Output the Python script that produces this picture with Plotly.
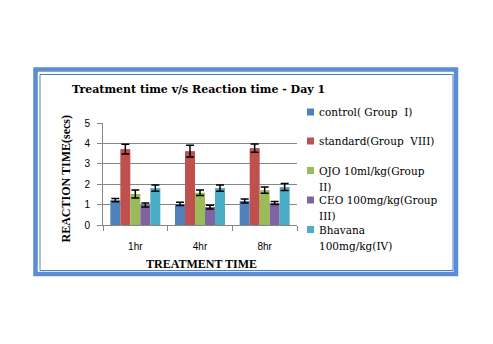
import plotly.graph_objects as go

categories = ["1hr", "4hr", "8hr"]
series_names = [
    "control(\u00a0Group\u00a0\u00a0I)",
    "standard(Group\u00a0\u00a0VIII)",
    "OJO 10ml/kg(Group<br>II)",
    "CEO 100mg/kg(Group<br>III)",
    "Bhavana<br>100mg/kg(IV)",
]
control = [1.22, 1.03, 1.18]
standard = [3.72, 3.62, 3.77]
ojo = [1.52, 1.58, 1.71]
ceo = [0.98, 0.88, 1.08]
bhavana = [1.81, 1.81, 1.86]
control_err = [0.08, 0.08, 0.10]
standard_err = [0.24, 0.29, 0.20]
ojo_err = [0.20, 0.14, 0.15]
ceo_err = [0.10, 0.09, 0.07]
bhavana_err = [0.15, 0.15, 0.17]
colors = ["#4F81BD", "#C0504D", "#9BBB59", "#8064A2", "#4BACC6"]

values = [control, standard, ojo, ceo, bhavana]
errors = [control_err, standard_err, ojo_err, ceo_err, bhavana_err]

W, H = 493, 344
L, R, T, B = 103, 297, 123, 225


def px(x):
    return (x - L) / (R - L)


def py(y):
    return (B - y) / (B - T)


serif = "Liberation Serif"
serif_wide = "DejaVu Serif"
sans = "Liberation Sans"

fig = go.Figure()
for i, (name, v, e, c) in enumerate(zip(series_names, values, errors, colors)):
    fig.add_trace(go.Bar(
        x=categories, y=v, name=name.replace("<br>", " "), marker_color=c, marker_line_width=0,
        showlegend=False,
        error_y=dict(type="data", array=e, visible=True, color="black", thickness=1.5, width=4),
    ))

fig.update_layout(
    width=W, height=H,
    margin=dict(l=L, r=W - R, t=T, b=H - B),
    paper_bgcolor="white", plot_bgcolor="white",
    barmode="group", bargap=0.227, bargroupgap=0,
    showlegend=False,
    font=dict(family=sans, size=10, color="black"),
)
fig.update_yaxes(range=[0, 5], dtick=1, showgrid=True, gridcolor="#868686", gridwidth=1,
                 showline=True, linecolor="#868686", linewidth=1,
                 ticks="outside", ticklen=5, tickcolor="#868686",
                 tickfont=dict(family=sans, size=10), zeroline=False, ticklabelstandoff=5)
fig.update_xaxes(showline=True, linecolor="#868686", linewidth=1,
                 ticks="outside", tickson="boundaries", ticklen=5, tickcolor="#868686",
                 tickfont=dict(family=sans, size=10), ticklabelstandoff=12)

fig.add_annotation(text="<b>Treatment time v/s Reaction time - Day 1</b>", xref="paper", yref="paper",
                   x=px(70), y=py(89), xanchor="left", yanchor="middle", showarrow=False,
                   font=dict(family=serif_wide, size=11, color="black"))
fig.add_annotation(text="<b>REACTION TIME(secs)</b>", xref="paper", yref="paper",
                   x=px(65.5), y=py(179), xanchor="center", yanchor="middle", textangle=-90,
                   showarrow=False, font=dict(family=serif, size=12, color="black"))
fig.add_annotation(text="<b>TREATMENT TIME</b>", xref="paper", yref="paper",
                   x=px(201), y=py(264), xanchor="center", yanchor="middle",
                   showarrow=False, font=dict(family=serif, size=12, color="black"))

# legend (manual, Excel style)
legend_rows = [112, 141, 170.5, 200, 229.5]
line_gap = 16
for name, c, yr in zip(series_names, colors, legend_rows):
    fig.add_shape(type="rect", xref="paper", yref="paper",
                  x0=px(307), x1=px(314), y0=py(yr + 3.5), y1=py(yr - 3.5),
                  line=dict(width=0), fillcolor=c)
    for k, part in enumerate(name.split("<br>")):
        fig.add_annotation(text=part, xref="paper", yref="paper",
                           x=px(317), y=py(yr + k * line_gap), xanchor="left", yanchor="middle",
                           showarrow=False, font=dict(family=serif_wide, size=10.5, color="black"))

fig.add_shape(type="rect", xref="paper", yref="paper",
              x0=px(35.5), x1=px(456), y0=py(274), y1=py(69.5),
              line=dict(color="#5B8CD6", width=4.5), layer="below")
fig.add_shape(type="rect", xref="paper", yref="paper",
              x0=px(40), x1=px(453), y0=py(270.5), y1=py(74.5),
              line=dict(color="#4F81BD", width=1), layer="below")

fig.write_html("out.html")
